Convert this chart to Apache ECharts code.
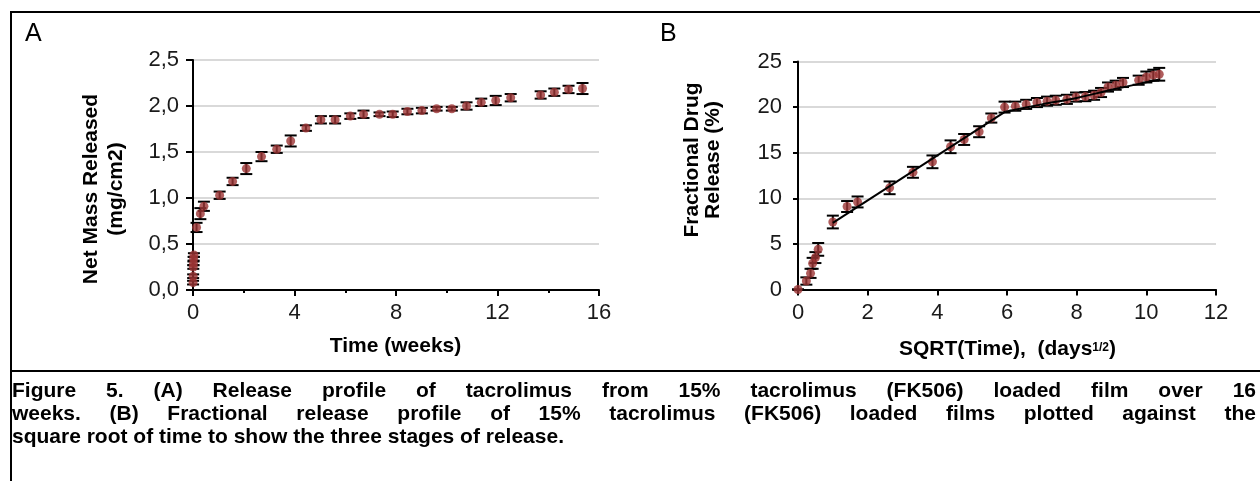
<!DOCTYPE html>
<html>
<head>
<meta charset="utf-8">
<script src="https://cdn.jsdelivr.net/npm/echarts@6/dist/echarts.min.js"></script>
<style>
html, body { margin: 0; padding: 0; background: #fff; }
#chart { width: 1260px; height: 481px; }
</style>
</head>
<body>
<div id="chart"></div>
<script>
// Panel A: net mass released (mg/cm2) vs time (weeks)
var weeksA = [0.003, 0.006, 0.012, 0.018, 0.024, 0.036, 0.14, 0.29, 0.43, 1.05, 1.56, 2.1, 2.7, 3.3, 3.85, 4.45, 5.04, 5.6, 6.2, 6.72, 7.35, 7.87, 8.45, 9.02, 9.6, 10.2, 10.78, 11.36, 11.93, 12.52, 13.7, 14.24, 14.8, 15.35];
var massA = [0.08, 0.15, 0.25, 0.29, 0.34, 0.38, 0.68, 0.83, 0.91, 1.03, 1.18, 1.32, 1.45, 1.53, 1.62, 1.76, 1.85, 1.85, 1.89, 1.91, 1.91, 1.91, 1.94, 1.95, 1.97, 1.97, 2.0, 2.04, 2.06, 2.09, 2.12, 2.15, 2.18, 2.19];
var errA = [0.02, 0.02, 0.02, 0.02, 0.02, 0.02, 0.05, 0.06, 0.05, 0.04, 0.04, 0.06, 0.05, 0.04, 0.06, 0.03, 0.04, 0.04, 0.03, 0.04, 0.02, 0.03, 0.03, 0.03, 0.02, 0.02, 0.04, 0.04, 0.05, 0.04, 0.04, 0.04, 0.04, 0.06];
var yLabelsA = ['0,0', '0,5', '1,0', '1,5', '2,0', '2,5'];

// Panel B: fractional drug release (%) vs sqrt(time)
var sqrtB = [0, 0.24, 0.36, 0.42, 0.5, 0.58, 1.0, 1.41, 1.71, 2.63, 3.3, 3.86, 4.38, 4.77, 5.2, 5.55, 5.93, 6.24, 6.55, 6.86, 7.15, 7.4, 7.72, 7.98, 8.25, 8.5, 8.7, 8.9, 9.12, 9.33, 9.78, 10.0, 10.2, 10.37];
var fracB = [0, 0.93, 1.77, 2.87, 3.5, 4.4, 7.4, 9.1, 9.6, 11.15, 12.85, 14.0, 15.65, 16.45, 17.3, 18.8, 20.0, 20.1, 20.3, 20.5, 20.65, 20.75, 20.85, 21.1, 21.15, 21.3, 21.6, 22.2, 22.4, 22.7, 22.95, 23.3, 23.5, 23.6];
var errB = [0, 0.4, 0.5, 0.6, 0.6, 0.7, 0.7, 0.6, 0.6, 0.7, 0.6, 0.7, 0.7, 0.6, 0.6, 0.5, 0.6, 0.5, 0.5, 0.5, 0.5, 0.5, 0.5, 0.5, 0.5, 0.5, 0.5, 0.5, 0.5, 0.5, 0.5, 0.6, 0.6, 0.7];
// trend lines drawn over panel B
var fit1X = [1.0, 5.95];
var fit1Y = [7.3, 19.5];
var fit2X = [5.95, 7, 8, 9, 10.35];
var fit2Y = [19.5, 20.3, 21.0, 21.9, 23.0];

var caption = [
    'Figure 5. (A) Release profile of tacrolimus from 15% tacrolimus (FK506) loaded film over 16',
    'weeks. (B) Fractional release profile of 15% tacrolimus (FK506) loaded films plotted against the',
    'square root of time to show the three stages of release.'
];

var FONT = '"Liberation Sans", Arial, sans-serif';
var markColor = '#9c3434';

function pairs(xs, ys) {
    return xs.map(function (x, i) { return [x, ys[i]]; });
}

function errorBars(xs, ys, es, idx) {
    var cap = 6;
    return {
        type: 'custom',
        xAxisIndex: idx,
        yAxisIndex: idx,
        z: 2,
        data: xs.map(function (x, i) { return [x, ys[i] - es[i], ys[i] + es[i]]; }),
        renderItem: function (params, api) {
            var lo = api.coord([api.value(0), api.value(1)]);
            var hi = api.coord([api.value(0), api.value(2)]);
            var st = { stroke: '#000', lineWidth: 2 };
            return {
                type: 'group',
                children: [
                    { type: 'line', shape: { x1: lo[0], y1: lo[1], x2: hi[0], y2: hi[1] }, style: st },
                    { type: 'line', shape: { x1: lo[0] - cap, y1: lo[1], x2: lo[0] + cap, y2: lo[1] }, style: st },
                    { type: 'line', shape: { x1: hi[0] - cap, y1: hi[1], x2: hi[0] + cap, y2: hi[1] }, style: st }
                ]
            };
        }
    };
}

function txt(x, y, text, size, weight, opts) {
    opts = opts || {};
    return {
        type: 'text',
        x: x,
        y: y,
        rotation: opts.rotation || 0,
        style: {
            text: text,
            font: weight + ' ' + size + 'px ' + FONT,
            fill: '#000',
            textAlign: opts.align || 'left',
            align: opts.align || 'left',
            textVerticalAlign: 'middle',
            verticalAlign: 'middle',
            rich: opts.rich
        }
    };
}

function line(x1, y1, x2, y2) {
    return { type: 'line', shape: { x1: x1, y1: y1, x2: x2, y2: y2 }, style: { stroke: '#000', lineWidth: 2 } };
}

// justified caption, word by word
var capFont = 21;
var capLeft = 12, capRight = 1256;
var mctx = document.createElement('canvas').getContext('2d');
mctx.font = 'bold ' + capFont + 'px ' + FONT;
function captionLine(str, y, justify) {
    var words = str.split(' ');
    var widths = words.map(function (w) { return mctx.measureText(w).width; });
    var total = widths.reduce(function (a, b) { return a + b; }, 0);
    var gap = justify ? (capRight - capLeft - total) / (words.length - 1) : mctx.measureText(' ').width;
    var x = capLeft, out = [];
    words.forEach(function (w, i) {
        out.push(txt(x, y, w, capFont, 'bold'));
        x += widths[i] + gap;
    });
    return out;
}

var graphics = [
    line(10, 12, 1260, 12),
    line(11, 11, 11, 481),
    line(10, 371, 1260, 371),
    txt(25, 34, 'A', 25, 'normal'),
    txt(660, 34, 'B', 25, 'normal'),
    txt(91, 189, 'Net Mass Released', 21, 'bold', { rotation: Math.PI / 2, align: 'center' }),
    txt(116, 189, '(mg/cm2)', 21, 'bold', { rotation: Math.PI / 2, align: 'center' }),
    txt(692, 160, 'Fractional Drug', 21, 'bold', { rotation: Math.PI / 2, align: 'center' }),
    txt(713.5, 160, 'Release (%)', 21, 'bold', { rotation: Math.PI / 2, align: 'center' }),
    txt(395.5, 346, 'Time (weeks)', 21, 'bold', { align: 'center' }),
    txt(1007.5, 349, 'SQRT(Time),  (days{sup|1/2})', 21, 'bold', {
        align: 'center',
        rich: { sup: { fontSize: 12, fontWeight: 'bold', fontFamily: FONT, padding: [0, 0, 3, 0] } }
    })
].concat(captionLine(caption[0], 391, true))
 .concat(captionLine(caption[1], 414, true))
 .concat(captionLine(caption[2], 437, false));

function valueAxis(idx, min, max, interval, extra) {
    var ax = {
        type: 'value',
        gridIndex: idx,
        min: min,
        max: max,
        interval: interval,
        axisLine: { show: true, onZero: false, lineStyle: { color: '#000', width: 2 } },
        axisTick: { show: true, inside: false, length: 6, lineStyle: { color: '#000', width: 2 } },
        axisLabel: { color: '#1a1a1a', fontSize: 22, fontFamily: FONT, margin: 12 },
        splitLine: { show: false }
    };
    for (var k in extra) ax[k] = extra[k];
    return ax;
}

var chart = echarts.init(document.getElementById('chart'), null, { renderer: 'canvas' });
chart.setOption({
    animation: false,
    backgroundColor: '#fff',
    grid: [
        { left: 193, top: 60, width: 406, height: 230 },
        { left: 798, top: 61.5, width: 418, height: 228 }
    ],
    xAxis: [
        valueAxis(0, 0, 16, 4, {
            minorTick: { show: true, splitNumber: 2, length: 3, lineStyle: { color: '#000', width: 2 } }
        }),
        valueAxis(1, 0, 12, 2, {})
    ],
    yAxis: [
        valueAxis(0, 0, 2.5, 0.5, {
            axisTick: { show: true, length: 7, lineStyle: { color: '#000', width: 2 } },
            axisLabel: {
                color: '#1a1a1a', fontSize: 22, fontFamily: FONT, margin: 14,
                formatter: function (v) { return yLabelsA[Math.round(v / 0.5)]; }
            },
            splitLine: { show: true, lineStyle: { color: '#d9d9d9', width: 2 } }
        }),
        valueAxis(1, 0, 25, 5, {
            axisTick: { show: true, length: 5, lineStyle: { color: '#000', width: 2 } },
            axisLabel: { color: '#1a1a1a', fontSize: 22, fontFamily: FONT, margin: 16 },
            splitLine: { show: true, lineStyle: { color: '#d9d9d9', width: 2 } }
        })
    ],
    series: [
        errorBars(weeksA, massA, errA, 0),
        {
            type: 'scatter', xAxisIndex: 0, yAxisIndex: 0, z: 3,
            symbol: 'circle', symbolSize: 9,
            itemStyle: { color: markColor },
            data: pairs(weeksA, massA)
        },
        errorBars(sqrtB, fracB, errB, 1),
        {
            type: 'scatter', xAxisIndex: 1, yAxisIndex: 1, z: 3,
            symbol: 'circle', symbolSize: 9,
            itemStyle: { color: markColor },
            data: pairs(sqrtB, fracB)
        },
        {
            type: 'line', xAxisIndex: 1, yAxisIndex: 1, z: 4,
            showSymbol: false, symbol: 'none',
            lineStyle: { color: '#000', width: 2 },
            data: pairs(fit1X, fit1Y)
        },
        {
            type: 'line', xAxisIndex: 1, yAxisIndex: 1, z: 4,
            showSymbol: false, symbol: 'none', smooth: 0.3,
            lineStyle: { color: '#000', width: 2 },
            data: pairs(fit2X, fit2Y)
        }
    ],
    graphic: graphics
});
</script>
</body>
</html>
